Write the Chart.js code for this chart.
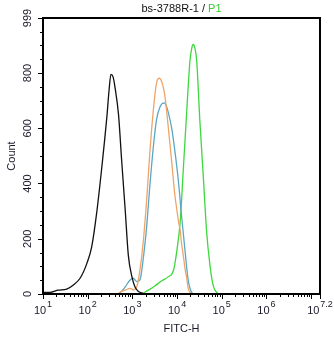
<!DOCTYPE html>
<html>
<head>
<meta charset="utf-8">
<script src="https://cdn.jsdelivr.net/npm/chart.js@4/dist/chart.umd.min.js"></script>
<style>
  html, body { margin: 0; padding: 0; background: #fff; }
  #wrap { width: 334px; height: 337px; }
</style>
</head>
<body>
<div id="wrap"><canvas id="histo" width="334" height="337"></canvas></div>
<script>
// x values are log10(FITC-H), y values are event counts

var controlLog   = [1.00, 1.16, 1.34, 1.53, 1.68, 1.83, 1.98, 2.09, 2.20, 2.31, 2.43, 2.48, 2.52, 2.57, 2.61, 2.69, 2.76, 2.84, 2.91, 2.99, 3.06, 3.13, 3.21, 3.28];
var controlCount = [6, 6, 14, 18, 33, 57, 110, 171, 292, 449, 642, 740, 795, 785, 750, 650, 485, 304, 140, 63, 25, 10, 4, 0];

var orangeLog   = [2.68, 2.72, 2.84, 2.95, 3.02, 3.10, 3.17, 3.24, 3.32, 3.39, 3.47, 3.54, 3.60, 3.64, 3.69, 3.73, 3.80, 3.88, 3.95, 4.00, 4.03, 4.07, 4.10, 4.14, 4.18, 4.22, 4.25, 4.31, 4.36];
var orangeCount = [0, 6, 14, 20, 15, 26, 87, 183, 340, 509, 666, 763, 781, 775, 750, 715, 610, 480, 360, 300, 265, 230, 185, 140, 90, 55, 20, 3, 0];

var tealLog   = [2.68, 2.75, 2.84, 2.95, 3.02, 3.10, 3.17, 3.24, 3.32, 3.39, 3.47, 3.54, 3.62, 3.71, 3.75, 3.80, 3.88, 3.95, 4.03, 4.10, 4.18, 4.25, 4.33, 4.38];
var tealCount = [0, 8, 26, 51, 57, 45, 51, 123, 244, 388, 533, 630, 678, 692, 685, 660, 600, 520, 410, 285, 155, 50, 5, 0];

var greenLog   = [3.24, 3.28, 3.36, 3.51, 3.66, 3.80, 3.92, 3.99, 4.07, 4.14, 4.22, 4.29, 4.33, 4.36, 4.40, 4.44, 4.51, 4.59, 4.66, 4.74, 4.81, 4.89, 4.96];
var greenCount = [0, 6, 14, 30, 48, 62, 85, 150, 260, 450, 670, 845, 890, 903, 890, 845, 630, 420, 230, 100, 30, 5, 0];

var yTickLabels = [0, 200, 400, 600, 800, 999];
var xDecades = [1, 2, 3, 4, 5, 6, 7.2];

var FONT = '"Liberation Sans", Arial, sans-serif';

function toPoints(xs, ys) {
  var pts = [];
  for (var i = 0; i < xs.length; i++) {
    pts.push({ x: xs[i], y: ys[i] });
  }
  return pts;
}

function makeSeries(label, xs, ys, color) {
  return {
    label: label,
    data: toPoints(xs, ys),
    borderColor: color,
    borderWidth: 1.3,
    pointRadius: 0,
    fill: false,
    cubicInterpolationMode: 'monotone'
  };
}

// frame, ticks, labels and titles are drawn by hand (flow cytometry look)
var framePlugin = {
  id: 'frame',
  afterDraw: function (chart) {
    var ctx = chart.ctx;
    var a = chart.chartArea;
    var xs = chart.scales.x;
    var ys = chart.scales.y;

    ctx.save();
    ctx.strokeStyle = '#000';
    ctx.lineWidth = 2;
    ctx.strokeRect(Math.round(a.left), Math.round(a.top),
      Math.round(a.right - a.left), Math.round(a.bottom - a.top));

    ctx.lineWidth = 1;
    // y ticks every 50, labels on majors
    ctx.beginPath();
    for (var v = 0; v <= 999; v += 50) {
      var py = Math.round(ys.getPixelForValue(v)) + 0.5;
      var len = (v % 200 === 0) ? 5 : 3;
      ctx.moveTo(a.left - len, py);
      ctx.lineTo(a.left, py);
    }
    var topY = Math.round(ys.getPixelForValue(999)) + 0.5;
    ctx.moveTo(a.left - 5, topY);
    ctx.lineTo(a.left, topY);

    // x ticks, log minors
    for (var d = 1; d <= 7; d++) {
      for (var k = 1; k <= 9; k++) {
        var lv = d + Math.log10(k);
        if (lv > 7.2) break;
        var px = Math.round(xs.getPixelForValue(lv)) + 0.5;
        var l2 = (k === 1) ? 5 : 3;
        ctx.moveTo(px, a.bottom);
        ctx.lineTo(px, a.bottom + l2);
      }
    }
    var endX = Math.round(xs.getPixelForValue(7.2)) + 0.5;
    ctx.moveTo(endX, a.bottom);
    ctx.lineTo(endX, a.bottom + 5);
    ctx.stroke();

    ctx.fillStyle = '#1a1a2a';

    // y labels, rotated
    ctx.font = '11px ' + FONT;
    ctx.textAlign = 'center';
    ctx.textBaseline = 'middle';
    yTickLabels.forEach(function (t) {
      ctx.save();
      ctx.translate(28, ys.getPixelForValue(t));
      ctx.rotate(-Math.PI / 2);
      ctx.fillText(String(t), 0, 0);
      ctx.restore();
    });

    ctx.save();
    ctx.translate(12, (a.top + a.bottom) / 2);
    ctx.rotate(-Math.PI / 2);
    ctx.fillText('Count', 0, 0);
    ctx.restore();

    // x labels: 10 with superscript exponent
    ctx.textBaseline = 'alphabetic';
    ctx.textAlign = 'left';
    xDecades.forEach(function (d) {
      var exp = String(d);
      ctx.font = '11px ' + FONT;
      var wBase = ctx.measureText('10').width;
      ctx.font = '9px ' + FONT;
      var wExp = ctx.measureText(exp).width;
      var total = wBase + 1 + wExp;
      var left = xs.getPixelForValue(d) - total / 2;
      if (left + total > chart.width - 1) left = chart.width - 1 - total;
      ctx.font = '11px ' + FONT;
      ctx.fillText('10', left, 313.5);
      ctx.font = '9px ' + FONT;
      ctx.fillText(exp, left + wBase + 1, 307);
    });

    ctx.font = '11px ' + FONT;
    ctx.textAlign = 'center';
    ctx.fillText('FITC-H', (a.left + a.right) / 2, 332);

    // title, gate name in green
    var t1 = 'bs-3788R-1 / ';
    var t2 = 'P1';
    ctx.textAlign = 'left';
    var w1 = ctx.measureText(t1).width;
    var w2 = ctx.measureText(t2).width;
    var tx = (a.left + a.right) / 2 - (w1 + w2) / 2;
    ctx.fillStyle = '#111';
    ctx.fillText(t1, tx, 11.5);
    ctx.fillStyle = '#33cc33';
    ctx.fillText(t2, tx + w1, 11.5);
    ctx.restore();
  }
};

var ctx = document.getElementById('histo').getContext('2d');
var histo = new Chart(ctx, {
  type: 'line',
  data: {
    datasets: [
      makeSeries('control', controlLog, controlCount, '#111111'),
      makeSeries('sample A', orangeLog, orangeCount, '#f0a468'),
      makeSeries('sample B', tealLog, tealCount, '#5aa8c6'),
      makeSeries('sample C', greenLog, greenCount, '#3ed83e')
    ]
  },
  options: {
    responsive: false,
    animation: false,
    layout: { padding: { left: 43, right: 14, top: 18, bottom: 43 } },
    plugins: {
      legend: { display: false },
      title: { display: false },
      tooltip: { enabled: false }
    },
    scales: {
      x: { type: 'linear', min: 1, max: 7.2, display: false },
      y: { type: 'linear', min: 0, max: 999, display: false }
    }
  },
  plugins: [framePlugin]
});
</script>
</body>
</html>
